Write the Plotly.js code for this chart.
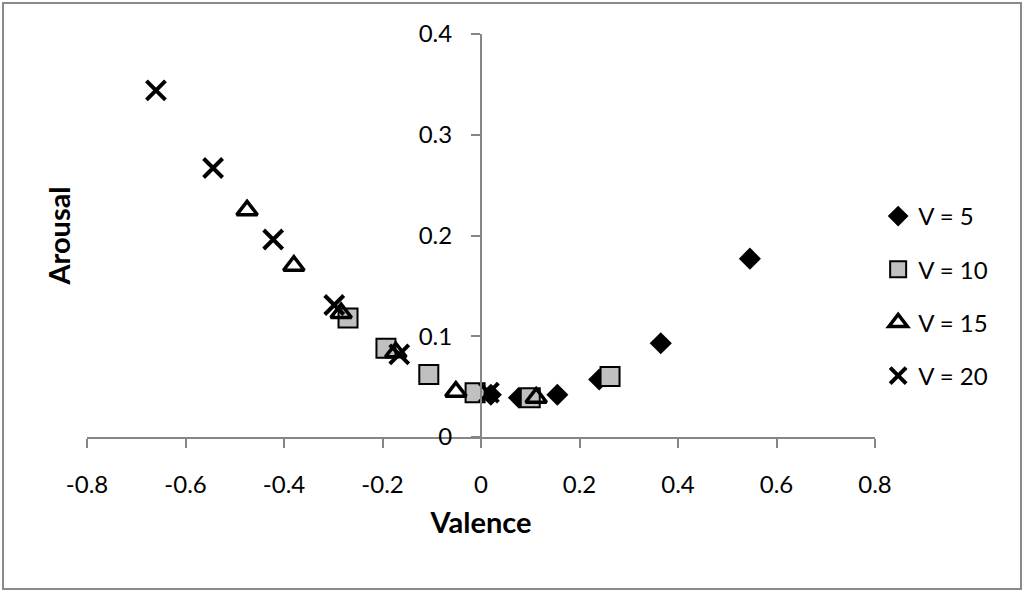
<!DOCTYPE html>
<html>
<head>
<meta charset="utf-8">
<script src="https://cdn.plot.ly/plotly-3.0.1.min.js"></script>
<style>
  html, body { margin: 0; padding: 0; background: #fff; }
  #wrap { position: relative; width: 1024px; height: 594px; }
  #chart { width: 1024px; height: 594px; }
  #frame { position: absolute; left: 2px; top: 2px; width: 1016px; height: 584px; border: 2px solid #8a8a8a; pointer-events: none; }
</style>
</head>
<body>
<div id="wrap"><div id="chart"></div><div id="frame"></div></div>
<script>
// Data
const v5_x  = [0.02, 0.077, 0.155, 0.240, 0.365, 0.546];
const v5_y  = [0.042, 0.039, 0.042, 0.057, 0.093, 0.177];
const v10_x = [-0.270, -0.193, -0.106, -0.012, 0.100, 0.262];
const v10_y = [0.118, 0.088, 0.062, 0.044, 0.039, 0.060];
const v15_x = [-0.475, -0.380, -0.284, -0.173, -0.051, 0.112];
const v15_y = [0.225, 0.170, 0.123, 0.084, 0.045, 0.039];
const v20_x = [-0.660, -0.544, -0.422, -0.298, -0.166, 0.016];
const v20_y = [0.344, 0.267, 0.196, 0.131, 0.082, 0.044];

const seriesNames = ["V = 5", "V = 10", "V = 15", "V = 20"];
const xTickVals = [-0.8, -0.6, -0.4, -0.2, 0, 0.2, 0.4, 0.6, 0.8];
const xTickText = ["-0.8", "-0.6", "-0.4", "-0.2", "0", "0.2", "0.4", "0.6", "0.8"];
const yTickVals = [0, 0.1, 0.2, 0.3, 0.4];
const yTickText = ["0", "0.1", "0.2", "0.3", "0.4"];

const FONT = "Lato, 'Open Sans', sans-serif";
const AXIS_COLOR = "#868686";

const traces = [
  { x: v5_x, y: v5_y, name: seriesNames[0], legendgroup: "a", mode: "markers", type: "scatter", cliponaxis: false,
    marker: { symbol: "diamond", size: 17, color: "#000000", line: { width: 0 } } },
  { x: v10_x, y: v10_y, name: seriesNames[1], legendgroup: "b", mode: "markers", type: "scatter", cliponaxis: false,
    marker: { symbol: "square", size: 19, color: "#c0c0c0", line: { width: 2, color: "#000000" } } },
  { x: v15_x, y: v15_y, name: seriesNames[2], legendgroup: "c", mode: "markers", type: "scatter", cliponaxis: false,
    marker: { symbol: "triangle-up-open", size: 18, color: "#000000", line: { width: 3.5, color: "#000000" } } },
  { x: v20_x, y: v20_y, name: seriesNames[3], legendgroup: "d", mode: "markers", type: "scatter", cliponaxis: false,
    marker: { symbol: "x-thin-open", size: 19, color: "#000000", line: { width: 4, color: "#000000" } } }
];

const layout = {
  width: 1024, height: 594,
  margin: { l: 87, r: 149, t: 34, b: 157, pad: 0 },
  paper_bgcolor: "#ffffff", plot_bgcolor: "rgba(0,0,0,0)",
  font: { family: FONT, size: 24, color: "#000000" },
  showlegend: true,
  legend: { x: 1.004, xanchor: "left", y: 0.35, yanchor: "middle", traceorder: "grouped", tracegroupgap: 19,
            font: { family: FONT, size: 24, color: "#000" }, bgcolor: "rgba(0,0,0,0)", itemsizing: "trace" },
  xaxis: {
    range: [-0.8, 0.8], domain: [0, 1], anchor: "y",
    showgrid: false, zeroline: false,
    showline: true, linecolor: AXIS_COLOR, linewidth: 2,
    ticks: "outside", ticklen: 9, tickwidth: 2, tickcolor: AXIS_COLOR,
    tickmode: "array", tickvals: xTickVals, ticktext: xTickText,
    ticklabelstandoff: 16,
    tickfont: { family: FONT, size: 24, color: "#000" },
    title: { text: "Valence", font: { family: FONT, size: 29, color: "#000", weight: "bold" }, standoff: 16 }
  },
  yaxis: {
    range: [0, 0.4], domain: [0, 1], anchor: "x",
    showgrid: false, zeroline: false, showline: false, showticklabels: false, ticks: "",
    title: { text: "Arousal", font: { family: FONT, size: 29, color: "#000", weight: "bold" }, standoff: 6 }
  },
  yaxis2: {
    range: [0, 0.4], overlaying: "y", anchor: "free", position: 0.5, side: "left",
    showgrid: false, zeroline: false,
    showline: true, linecolor: AXIS_COLOR, linewidth: 2,
    ticks: "outside", ticklen: 9, tickwidth: 2, tickcolor: AXIS_COLOR,
    tickmode: "array", tickvals: yTickVals, ticktext: yTickText,
    ticklabelstandoff: 14,
    tickfont: { family: FONT, size: 24, color: "#000" }
  }
};

// invisible helper trace so that yaxis2 (the axis drawn through x = 0) is shown
traces.push({ x: [0], y: [0], yaxis: "y2", mode: "markers", marker: { opacity: 0 }, showlegend: false, hoverinfo: "skip" });

Plotly.newPlot("chart", traces, layout, { displayModeBar: false, staticPlot: true });
</script>
</body>
</html>
